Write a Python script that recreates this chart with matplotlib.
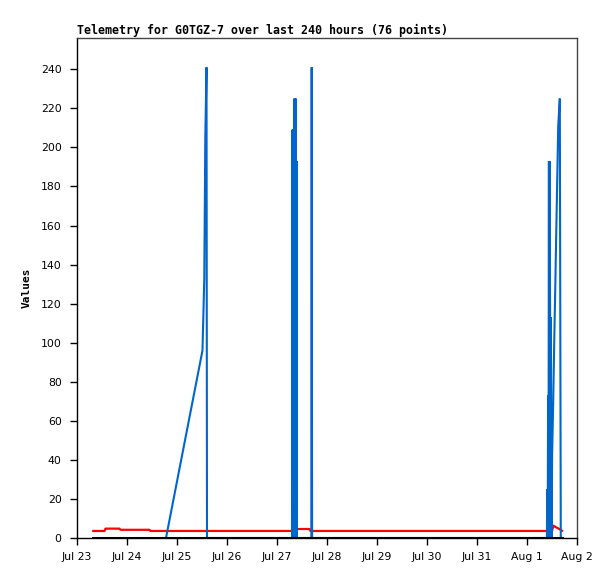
import matplotlib
matplotlib.use("Agg")
import matplotlib.pyplot as plt
import matplotlib.dates as mdates
import pandas as pd

# ---- data ----
blue_times = [
    "2023-07-24 18:43", "2023-07-25 12:14", "2023-07-25 13:06", "2023-07-25 13:35",
    "2023-07-25 14:10", "2023-07-25 14:24",
    "2023-07-27 07:12", "2023-07-27 07:20", "2023-07-27 07:28", "2023-07-27 07:36",
    "2023-07-27 07:44", "2023-07-27 07:52", "2023-07-27 08:00", "2023-07-27 08:08",
    "2023-07-27 08:16", "2023-07-27 08:24", "2023-07-27 08:32", "2023-07-27 08:40",
    "2023-07-27 08:48", "2023-07-27 08:56", "2023-07-27 09:04", "2023-07-27 09:12",
    "2023-07-27 09:20", "2023-07-27 09:27", "2023-07-27 09:34",
    "2023-07-27 16:28", "2023-07-27 16:39", "2023-07-27 16:51",
    "2023-08-01 09:33", "2023-08-01 09:45", "2023-08-01 09:56", "2023-08-01 10:08",
    "2023-08-01 10:19", "2023-08-01 10:31", "2023-08-01 10:42", "2023-08-01 10:54",
    "2023-08-01 11:05", "2023-08-01 11:17", "2023-08-01 11:28", "2023-08-01 11:40",
    "2023-08-01 11:51", "2023-08-01 12:03", "2023-08-01 12:35", "2023-08-01 13:03",
    "2023-08-01 13:32", "2023-08-01 14:01", "2023-08-01 14:30", "2023-08-01 14:59",
    "2023-08-01 15:45", "2023-08-01 16:13",
]
blue_values = [
    0, 96, 133, 205, 241, 0,
    0, 209, 0, 209, 0, 209, 0, 209, 0, 225, 0, 225, 0, 225, 0, 193, 0, 193, 0,
    0, 241, 0,
    0, 25, 0, 73, 0, 193, 0, 193, 113, 0, 113, 14, 0, 42, 70, 99, 126, 155, 183, 211,
    225, 0,
]

red_times = [
    "2023-07-23 07:49", "2023-07-23 13:12", "2023-07-23 13:41", "2023-07-23 20:24",
    "2023-07-23 20:53", "2023-07-24 10:48", "2023-07-24 11:17", "2023-07-27 09:22",
    "2023-07-27 09:36", "2023-07-27 15:36", "2023-07-27 16:05", "2023-08-01 12:00",
    "2023-08-01 12:43", "2023-08-01 13:55", "2023-08-01 15:22", "2023-08-01 16:48",
]
red_values = [3.6, 3.6, 4.8, 4.8, 4.2, 4.2, 3.6, 3.6, 4.6, 4.6, 3.6, 3.6, 6.3, 5.5, 4.7, 3.7]

black_times = ["2023-07-23 07:49", "2023-08-01 16:48"]
black_values = [0, 0]

y_ticks = [0, 20, 40, 60, 80, 100, 120, 140, 160, 180, 200, 220, 240]
x_start, x_end = "2023-07-23 00:00", "2023-08-02 00:00"
title = "Telemetry for G0TGZ-7 over last 240 hours (76 points)"
y_label = "Values"

# ---- figure ----
W, H = 615, 579
fig = plt.figure(figsize=(W / 100, H / 100), dpi=100)
ax = fig.add_axes([77 / W, 1 - 538 / H, 500 / W, 500 / H])

ax.plot(pd.to_datetime(red_times), red_values, color="#ff0000", lw=1.6, zorder=2)
ax.plot(pd.to_datetime(blue_times), blue_values, color="#0066cc", lw=1.5, zorder=3,
        solid_joinstyle="miter")
ax.plot(pd.to_datetime(black_times), black_values, color="black", lw=2.2, zorder=4)

ax.set_xlim(pd.Timestamp(x_start), pd.Timestamp(x_end))
ax.set_ylim(0, 256)
ax.set_yticks(y_ticks)
ax.xaxis.set_major_locator(mdates.DayLocator())
ax.xaxis.set_major_formatter(
    matplotlib.ticker.FuncFormatter(lambda v, p: f"{mdates.num2date(v):%b} {mdates.num2date(v).day}"))

for lab in ax.get_xticklabels() + ax.get_yticklabels():
    lab.set_fontfamily("DejaVu Sans")
    lab.set_fontsize(7.8)
ax.tick_params(axis="both", direction="out", length=5, width=1, colors="black")
ax.tick_params(axis="x", pad=5)
ax.tick_params(axis="y", pad=6)

for side in ["top", "right"]:
    ax.spines[side].set_color("#444444")
for side in ["left", "bottom"]:
    ax.spines[side].set_color("black")
for s in ax.spines.values():
    s.set_linewidth(1)

ax.set_title(title, loc="left", pad=3, fontfamily="DejaVu Sans Mono",
             fontweight="bold", fontsize=8.4)
ax.set_ylabel(y_label, fontfamily="DejaVu Sans Mono", fontweight="bold", fontsize=8)
ax.yaxis.set_label_coords(-(77 - 31.5) / 500, 0.5)

fig.savefig("out.png", dpi=100)
